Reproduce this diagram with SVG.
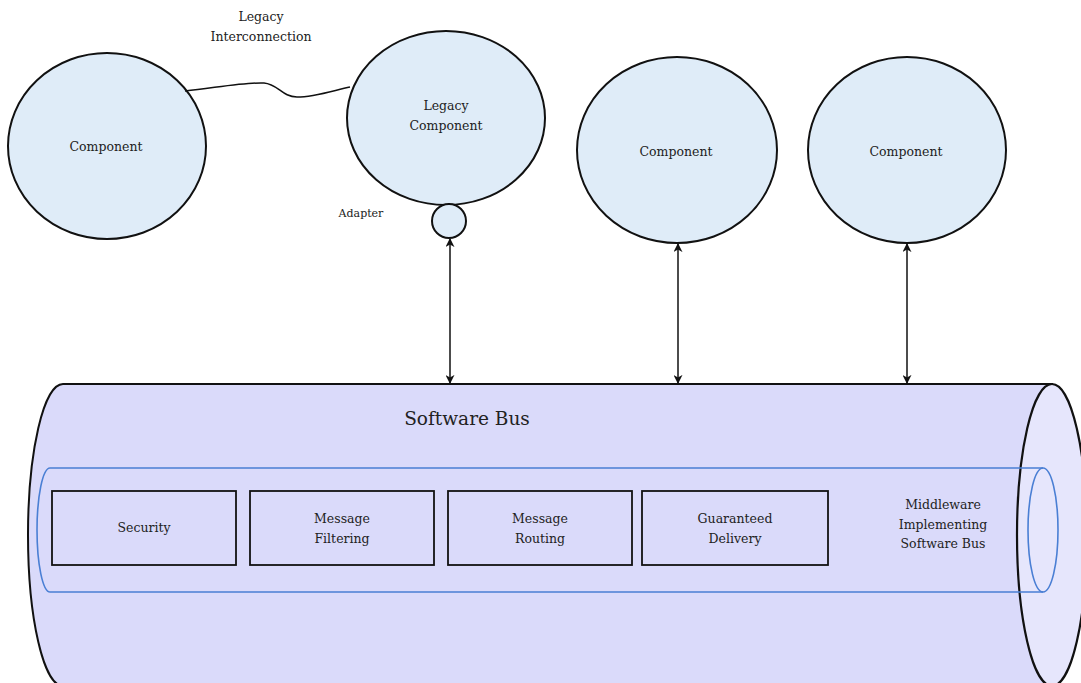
<svg xmlns="http://www.w3.org/2000/svg" width="1081" height="683" viewBox="0 0 1081 683">
<style>
.comp{fill:#dfecf8;stroke:#111;stroke-width:2}
.box{fill:none;stroke:#111;stroke-width:1.8}
.t{font-family:"DejaVu Serif","Liberation Serif",serif;font-size:12.5px;fill:#222;text-anchor:middle}
.conn{stroke:#111;stroke-width:1.5;fill:none}
.blue{fill:none;stroke:#4a7fd4;stroke-width:1.6}
</style>
<defs>
<marker id="ah" viewBox="0 0 10 10" refX="9" refY="5" markerWidth="9" markerHeight="9" markerUnits="userSpaceOnUse" orient="auto-start-reverse">
<path d="M0,0 L10,5 L0,10 L3,5 Z" fill="#111"/>
</marker>
</defs>
<rect width="1081" height="683" fill="#fff"/>
<g id="bus">
<path d="M63,384 H1052 V686 H63 A35,151 0 0 1 63,384 Z" fill="#dadafa" stroke="#111" stroke-width="2"/>
<ellipse cx="1052" cy="535" rx="35" ry="151" fill="#e6e6fc" stroke="#111" stroke-width="2.2"/>
<path class="blue" d="M50,468 H1043 M50,592 H1043 M50,468 A13,62 0 0 0 50,592"/>
<ellipse class="blue" cx="1043" cy="530" rx="15" ry="62"/>
<text class="t" x="467" y="425" style="font-size:18.5px">Software Bus</text>
<text class="t" x="943" y="509">Middleware</text>
<text class="t" x="943" y="529">Implementing</text>
<text class="t" x="943" y="548">Software Bus</text>
</g>
<g id="security"><rect class="box" x="52" y="491" width="184" height="74"/><text class="t" x="144" y="532">Security</text></g>
<g id="filtering"><rect class="box" x="250" y="491" width="184" height="74"/><text class="t" x="342" y="523">Message</text><text class="t" x="342" y="543">Filtering</text></g>
<g id="routing"><rect class="box" x="448" y="491" width="184" height="74"/><text class="t" x="540" y="523">Message</text><text class="t" x="540" y="543">Routing</text></g>
<g id="delivery"><rect class="box" x="642" y="491" width="186" height="74"/><text class="t" x="735" y="523">Guaranteed</text><text class="t" x="735" y="543">Delivery</text></g>
<g id="comp1"><ellipse class="comp" cx="107" cy="146" rx="99" ry="93"/><text class="t" x="106" y="151">Component</text></g>
<g id="legacy"><ellipse class="comp" cx="446" cy="118" rx="99" ry="87"/><text class="t" x="446" y="110">Legacy</text><text class="t" x="446" y="130">Component</text></g>
<g id="adapter"><circle class="comp" cx="449" cy="221" r="17"/><text class="t" x="361" y="217" style="font-size:11px">Adapter</text></g>
<g id="comp2"><ellipse class="comp" cx="677" cy="150" rx="100" ry="93"/><text class="t" x="676" y="156">Component</text></g>
<g id="comp3"><ellipse class="comp" cx="907" cy="150" rx="99" ry="93"/><text class="t" x="906" y="156">Component</text></g>
<g id="connectors">
<path class="conn" d="M185,91 C220,87 248,82 264,83 C278,84 282,97 297,97 C315,97 335,90 350,87"/>
<text class="t" x="261" y="21">Legacy</text>
<text class="t" x="261" y="41">Interconnection</text>
<line class="conn" x1="450" y1="239" x2="450" y2="383" marker-start="url(#ah)" marker-end="url(#ah)"/>
<line class="conn" x1="678" y1="244" x2="678" y2="383" marker-start="url(#ah)" marker-end="url(#ah)"/>
<line class="conn" x1="907" y1="244" x2="907" y2="383" marker-start="url(#ah)" marker-end="url(#ah)"/>
</g>
</svg>
